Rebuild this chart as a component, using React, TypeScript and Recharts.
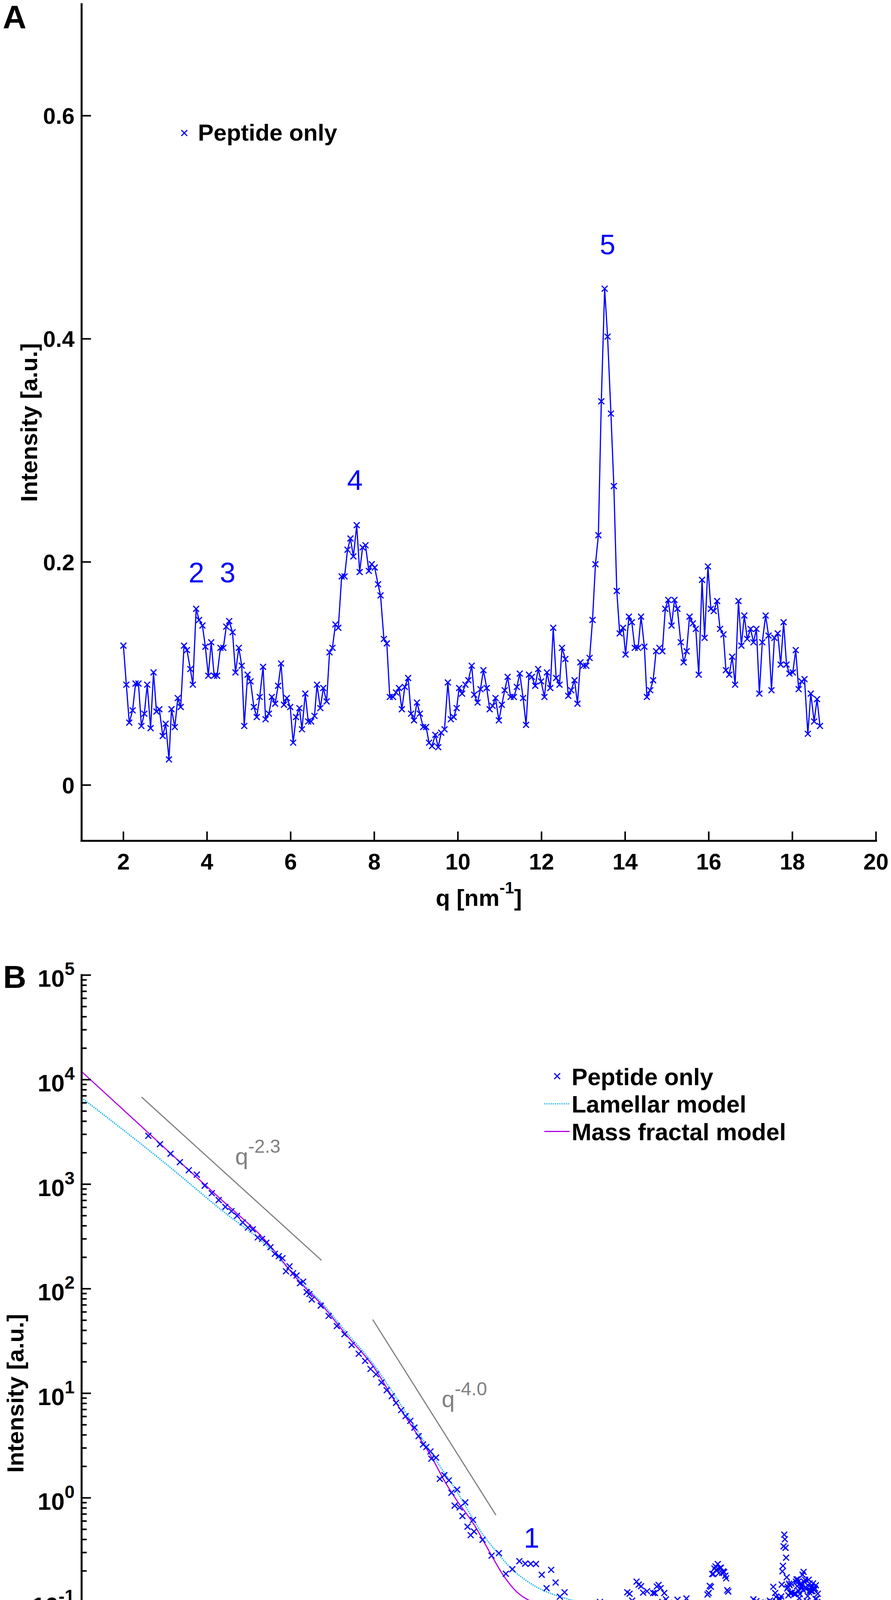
import React from 'react'
import {
  ComposedChart,
  Line,
  Scatter,
  XAxis,
  YAxis,
  Legend,
  ReferenceLine,
  ReferenceDot,
} from 'recharts'

const FONT = "'Liberation Sans', Arial, Helvetica, sans-serif"
const BLUE = '#0000ff'
const CYAN = '#1ab4f0'
const MAGENTA = '#b400e6'
const GREY = '#808080'
const LAM_DASH = '3 2.5'

// WAXS, q >= 2 nm^-1 (panel A, and the right half of panel B)
const waxsQ = [
  2.0, 2.07, 2.14, 2.22, 2.29, 2.36, 2.43, 2.5, 2.57, 2.65,
  2.72, 2.79, 2.86, 2.94, 3.01, 3.09, 3.15, 3.23, 3.3, 3.37,
  3.45, 3.52, 3.6, 3.66, 3.74, 3.81, 3.89, 3.96, 4.03, 4.1,
  4.17, 4.24, 4.32, 4.39, 4.46, 4.53, 4.61, 4.68, 4.76, 4.83,
  4.89, 4.97, 5.04, 5.12, 5.19, 5.26, 5.34, 5.4, 5.48, 5.55,
  5.63, 5.7, 5.77, 5.84, 5.91, 5.99, 6.06, 6.13, 6.21, 6.27,
  6.35, 6.42, 6.49, 6.57, 6.63, 6.71, 6.78, 6.86, 6.93, 7.0,
  7.07, 7.14, 7.22, 7.29, 7.36, 7.43, 7.5, 7.58, 7.65, 7.72,
  7.79, 7.87, 7.94, 8.01, 8.09, 8.15, 8.23, 8.3, 8.37, 8.45,
  8.52, 8.59, 8.66, 8.73, 8.81, 8.88, 8.95, 9.02, 9.09, 9.17,
  9.24, 9.31, 9.38, 9.46, 9.53, 9.6, 9.68, 9.76, 9.83, 9.9,
  9.97, 10.03, 10.1, 10.18, 10.25, 10.33, 10.39, 10.47, 10.54, 10.61,
  10.69, 10.76, 10.83, 10.9, 10.98, 11.05, 11.12, 11.19, 11.26, 11.34,
  11.41, 11.48, 11.56, 11.63, 11.7, 11.77, 11.85, 11.92, 11.99, 12.07,
  12.13, 12.21, 12.28, 12.35, 12.43, 12.49, 12.57, 12.64, 12.71, 12.79,
  12.86, 12.93, 13.0, 13.07, 13.15, 13.22, 13.29, 13.36, 13.43, 13.51,
  13.58, 13.66, 13.73, 13.8, 13.87, 13.95, 14.01, 14.09, 14.16, 14.23,
  14.31, 14.38, 14.46, 14.52, 14.6, 14.67, 14.74, 14.82, 14.89, 14.96,
  15.03, 15.11, 15.18, 15.25, 15.33, 15.4, 15.47, 15.54, 15.62, 15.69,
  15.76, 15.84, 15.9, 15.98, 16.05, 16.12, 16.2, 16.27, 16.35, 16.41,
  16.49, 16.56, 16.63, 16.71, 16.78, 16.85, 16.92, 17.0, 17.07, 17.14,
  17.21, 17.28, 17.36, 17.43, 17.5, 17.57, 17.65, 17.72, 17.79, 17.86,
  17.93, 18.01, 18.08, 18.15, 18.22, 18.29, 18.37, 18.44, 18.52, 18.59,
  18.66,
]
const waxsI = [
  0.125, 0.09, 0.056, 0.067, 0.091, 0.091, 0.053, 0.064, 0.09, 0.051,
  0.101, 0.066, 0.068, 0.044, 0.055, 0.023, 0.068, 0.052, 0.078, 0.07,
  0.125, 0.121, 0.104, 0.09, 0.158, 0.148, 0.143, 0.124, 0.098, 0.128,
  0.098, 0.098, 0.123, 0.123, 0.142, 0.147, 0.137, 0.101, 0.123, 0.107,
  0.053, 0.099, 0.093, 0.07, 0.061, 0.079, 0.106, 0.059, 0.064, 0.079,
  0.073, 0.089, 0.109, 0.072, 0.078, 0.07, 0.038, 0.061, 0.069, 0.05,
  0.082, 0.057, 0.057, 0.062, 0.09, 0.069, 0.087, 0.075, 0.119, 0.123,
  0.144, 0.141, 0.187, 0.187, 0.211, 0.221, 0.205, 0.233, 0.191, 0.213,
  0.215, 0.192, 0.198, 0.195, 0.18, 0.17, 0.131, 0.127, 0.079, 0.079,
  0.083, 0.087, 0.068, 0.088, 0.096, 0.064, 0.058, 0.074, 0.064, 0.052,
  0.052, 0.038, 0.035, 0.045, 0.034, 0.047, 0.05, 0.092, 0.059, 0.061,
  0.069, 0.087, 0.082, 0.09, 0.094, 0.107, 0.081, 0.074, 0.086, 0.103,
  0.087, 0.068, 0.071, 0.078, 0.058, 0.072, 0.085, 0.097, 0.079, 0.079,
  0.088, 0.1, 0.078, 0.054, 0.099, 0.097, 0.089, 0.104, 0.093, 0.079,
  0.101, 0.087, 0.141, 0.096, 0.09, 0.123, 0.113, 0.08, 0.085, 0.094,
  0.073, 0.11, 0.107, 0.107, 0.114, 0.148, 0.198, 0.224, 0.344, 0.445,
  0.402, 0.333, 0.268, 0.174, 0.136, 0.141, 0.117, 0.151, 0.146, 0.123,
  0.123, 0.151, 0.124, 0.079, 0.085, 0.094, 0.12, 0.123, 0.12, 0.158,
  0.166, 0.143, 0.166, 0.158, 0.128, 0.11, 0.12, 0.151, 0.145, 0.14,
  0.099, 0.184, 0.132, 0.196, 0.158, 0.156, 0.165, 0.14, 0.135, 0.103,
  0.099, 0.115, 0.09, 0.165, 0.125, 0.152, 0.131, 0.14, 0.128, 0.14,
  0.082, 0.128, 0.152, 0.134, 0.085, 0.132, 0.136, 0.108, 0.146, 0.108,
  0.1, 0.101, 0.121, 0.086, 0.093, 0.095, 0.046, 0.082, 0.057, 0.077,
  0.053,
]

// WAXS points between 1 and 2 nm^-1 (only shown in panel B)
const waxsLowQ = [1.06, 1.13, 1.2, 1.27, 1.35, 1.42, 1.49, 1.56, 1.64, 1.71, 1.78, 1.85, 1.92]
const waxsLowI = [0.28, 0.296, 0.188, 0.208, 0.248, 0.235, 0.234, 0.233, 0.184, 0.137, 0.205, 0.155, 0.1135]

// SAXS
const saxsQ = [
  0.0536, 0.0593, 0.065, 0.0705, 0.0762, 0.0817, 0.0875, 0.0931, 0.0988, 0.1047,
  0.1104, 0.1159, 0.1218, 0.1274, 0.1328, 0.1388, 0.144, 0.1495, 0.155, 0.161,
  0.1667, 0.172, 0.1774, 0.183, 0.1888, 0.1945, 0.2003, 0.206, 0.2123, 0.2175,
  0.222, 0.24, 0.257, 0.276, 0.295, 0.314, 0.334, 0.353, 0.37, 0.388,
  0.407, 0.426, 0.445, 0.462, 0.483, 0.502, 0.523, 0.542, 0.562, 0.584,
  0.601, 0.623, 0.628, 0.654, 0.676, 0.703, 0.731, 0.748, 0.769, 0.786,
  0.803, 0.823, 0.843, 0.86, 0.884, 0.902, 0.91, 0.98,
]
const saxsI = [
  2904, 2414, 1955, 1626, 1361, 1234, 968, 821, 706, 607,
  553, 498, 431, 385, 370, 310, 300, 275, 250, 216,
  205, 196, 147, 164, 141, 134, 113, 117, 93, 89,
  79, 69, 55, 44, 36.8, 29, 23.9, 20.4, 17.1, 15.2,
  12.7, 10.7, 9.4, 8.1, 6.9, 6.05, 5.45, 4.7, 3.9, 3.24,
  3.06, 2.78, 2.37, 2.43, 1.52, 1.65, 1.47, 1.12, 0.843, 1.2,
  0.81, 0.67, 0.905, 0.53, 0.44, 0.615, 0.477, 0.397,
]

// model fits
const lamellarQ = [0.03, 0.05, 0.07, 0.1, 0.15, 0.2, 0.24, 0.3, 0.38, 0.45, 0.55, 0.62, 0.78, 1.0, 1.09, 1.25, 1.5, 2.0, 2.5, 3.0, 3.5, 5, 10, 20]
const lamellarI = [6700, 2460, 1234, 580, 258, 119, 75, 38.2, 18.9, 10.1, 4.58, 2.81, 1.17, 0.42, 0.32, 0.215, 0.15, 0.11, 0.0975, 0.0923, 0.09, 0.0891, 0.0891, 0.0891]
const fractalQ = [0.03, 0.05, 0.07, 0.1, 0.15, 0.2, 0.24, 0.3, 0.38, 0.45, 0.55, 0.62, 0.71, 0.78, 0.91, 1.03, 1.17, 1.32, 1.5, 1.69, 2.0, 3.0, 5, 10, 20]
const fractalI = [11950, 3650, 1660, 730, 281, 116, 72, 36, 17.9, 9.0, 4.2, 2.62, 1.4, 0.96, 0.556, 0.32, 0.184, 0.126, 0.102, 0.0935, 0.0903, 0.0892, 0.0891, 0.0891, 0.0891]

// annotations
const peakLabelsA = [
  { text: '2', q: 3.745, I: 0.1818 },
  { text: '3', q: 4.492, I: 0.1818 },
  { text: '4', q: 7.536, I: 0.2648 },
  { text: '5', q: 13.58, I: 0.4758 },
]
const peakLabelsB = [{ text: '1', q: 1.502, I: 0.335 }]
const slopes = [
  { exp: '-2.3', x1: 0.0505, y1: 6820, x2: 0.2417, y2: 187, lq: 0.114, lI: 1551 },
  { exp: '-4.0', x1: 0.377, y1: 50.8, x2: 1.101, y2: 0.684, lq: 0.687, lI: 7.41 },
]
const legendOrderB = ['Peptide only', 'Lamellar model', 'Mass fractal model']

const ticksAX = [2, 4, 6, 8, 10, 12, 14, 16, 18, 20]
const ticksAY = [0, 0.2, 0.4, 0.6]
const decadesBX = [0.01, 0.1, 1, 10]
const decadesBY = [1e-3, 1e-2, 1e-1, 1, 10, 100, 1e3, 1e4]
const steps = [1, 2, 3, 4, 5, 6, 7, 8, 9]
const ticksBX = decadesBX.flatMap((d) => steps.map((k) => k * d)).filter((v) => v > 0.031 && v < 29)
const ticksBY = [...decadesBY.flatMap((d) => steps.map((k) => k * d)), 1e5]

const zip = (qs: number[], is: number[]) => qs.map((q, i) => ({ q, I: is[i] }))
const dataA = zip(waxsQ, waxsI)
const dataB = [...zip(saxsQ, saxsI), ...zip(waxsLowQ, waxsLowI), ...dataA]
const lamellar = zip(lamellarQ, lamellarI)
const fractal = zip(fractalQ, fractalI)

const FRAME = { stroke: '#000', strokeWidth: 5, strokeLinecap: 'square' as const }
const TW = 4
const MAJOR = 24
const MINOR = 13
const bold = { fontFamily: FONT, fontWeight: 700, fill: '#000' }

const isDecade = (v: number) => {
  const l = Math.log10(v)
  return Math.abs(l - Math.round(l)) < 1e-6
}

const Cross = (p: any) => {
  const { cx, cy } = p
  if (cx == null || cy == null || Number.isNaN(cx) || Number.isNaN(cy)) return <g />
  const h = 7.5
  return (
    <path
      d={`M${cx - h} ${cy - h}L${cx + h} ${cy + h}M${cx - h} ${cy + h}L${cx + h} ${cy - h}`}
      stroke={BLUE}
      strokeWidth={3}
      fill="none"
    />
  )
}

// panel A ticks (tickSize/tickMargin are 0, so x/y sit on the axis line)
const aBottom = ({ x, y, payload }: any) => (
  <g>
    <line x1={x} x2={x} y1={y} y2={y - MAJOR} stroke="#000" strokeWidth={TW} />
    <text x={x} y={y + 73} textAnchor="middle" fontSize={58} {...bold}>{payload.value}</text>
  </g>
)
const aTop = ({ x, y }: any) => <line x1={x} x2={x} y1={y} y2={y + MAJOR} stroke="#000" strokeWidth={TW} />
const aLeft = ({ x, y, payload }: any) => (
  <g>
    <line x1={x} x2={x + MAJOR} y1={y} y2={y} stroke="#000" strokeWidth={TW} />
    <text x={x - 18} y={y + 21} textAnchor="end" fontSize={58} {...bold}>{payload.value}</text>
  </g>
)
const aRight = ({ x, y }: any) => <line x1={x} x2={x - MAJOR} y1={y} y2={y} stroke="#000" strokeWidth={TW} />

// panel B ticks, log axes with minor ticks
const bBottom = ({ x, y, payload }: any) => {
  const big = isDecade(payload.value)
  return (
    <g>
      <line x1={x} x2={x} y1={y} y2={y - (big ? MAJOR : MINOR)} stroke="#000" strokeWidth={TW} />
      {big && (
        <text x={x} y={y + 92} textAnchor="middle" fontSize={62} {...bold}>
          10<tspan dy={-28} fontSize={46}>{Math.round(Math.log10(payload.value))}</tspan>
        </text>
      )}
    </g>
  )
}
const bTop = ({ x, y, payload }: any) => (
  <line x1={x} x2={x} y1={y} y2={y + (isDecade(payload.value) ? MAJOR : MINOR)} stroke="#000" strokeWidth={TW} />
)
const bLeft = ({ x, y, payload }: any) => {
  const big = isDecade(payload.value)
  return (
    <g>
      <line x1={x} x2={x + (big ? MAJOR : MINOR)} y1={y} y2={y} stroke="#000" strokeWidth={TW} />
      {big && (
        <text x={x - 18} y={y + 30} textAnchor="end" fontSize={62} {...bold}>
          10<tspan dy={-30} fontSize={46}>{Math.round(Math.log10(payload.value))}</tspan>
        </text>
      )}
    </g>
  )
}
const bRight = ({ x, y, payload }: any) => (
  <line x1={x} x2={x - (isDecade(payload.value) ? MAJOR : MINOR)} y1={y} y2={y} stroke="#000" strokeWidth={TW} />
)

const yTitle = (bx: number) => ({ viewBox }: any) => {
  const cx = viewBox.x + bx
  const cy = viewBox.y + viewBox.height / 2
  return (
    <text x={cx} y={cy} transform={`rotate(-90 ${cx} ${cy})`} textAnchor="middle" fontSize={60} {...bold}>
      Intensity [a.u.]
    </text>
  )
}
const xTitle = (dy: number) => ({ viewBox }: any) => (
  <text x={viewBox.x + viewBox.width / 2} y={viewBox.y + dy} textAnchor="middle" fontSize={60} {...bold}>
    q [nm<tspan dy={-32} fontSize={42}>-1</tspan><tspan dy={32}>]</tspan>
  </text>
)

const peakText = (txt: string) => (p: any) => (
  <text x={p.cx} y={p.cy} textAnchor="middle" fontFamily={FONT} fontSize={72} fill={BLUE}>{txt}</text>
)
const slopeText = (exp: string) => (p: any) => (
  <text x={p.cx} y={p.cy} fontFamily={FONT} fontSize={60} fill={GREY}>
    q<tspan dy={-30} fontSize={48}>{exp}</tspan>
  </text>
)

const legendA = ({ payload }: any) => (
  <svg width={460} height={80}>
    {(payload || []).map((e: any) => (
      <g key={e.value}>
        <Cross cx={32} cy={40.5} />
        <text x={67} y={60} fontSize={60} {...bold}>{e.value}</text>
      </g>
    ))}
  </svg>
)

const legendB = ({ payload }: any) => {
  const items = [...(payload || [])].sort(
    (a: any, b: any) => legendOrderB.indexOf(a.value) - legendOrderB.indexOf(b.value),
  )
  return (
    <svg width={640} height={220}>
      {items.map((e: any, i: number) => {
        const cy = 35 + i * 70.7
        const dash = e.payload?.strokeDasharray ?? (e.value === 'Lamellar model' ? LAM_DASH : undefined)
        return (
          <g key={e.value}>
            {e.type === 'cross' ? (
              <Cross cx={47} cy={cy} />
            ) : (
              <line x1={14} x2={79} y1={cy} y2={cy} stroke={e.color} strokeWidth={3} strokeDasharray={dash} />
            )}
            <text x={84} y={cy + 22.5} fontSize={61} {...bold}>{e.value}</text>
          </g>
        )
      })}
    </svg>
  )
}

function PanelA() {
  return (
    <ComposedChart width={2282} height={2380} data={dataA} margin={{ top: 10.7, right: 38.4, bottom: 0, left: 0 }}>
      <XAxis
        xAxisId="x" dataKey="q" type="number" domain={[1, 20]} allowDataOverflow
        ticks={ticksAX} interval={0} tickSize={0} tickMargin={0} tickLine={false}
        tick={aBottom} height={227.4} axisLine={FRAME} label={xTitle(166)}
      />
      <XAxis
        xAxisId="xt" orientation="top" type="number" domain={[1, 20]} allowDataOverflow
        ticks={ticksAX} interval={0} tickSize={0} tickMargin={0} tickLine={false}
        tick={aTop} height={0} axisLine={FRAME}
      />
      <YAxis
        yAxisId="y" dataKey="I" type="number" domain={[-0.05, 0.7]} allowDataOverflow
        ticks={ticksAY} interval={0} tickSize={0} tickMargin={0} tickLine={false}
        tick={aLeft} width={209} axisLine={FRAME} label={yTitle(95)}
      />
      <YAxis
        yAxisId="yr" orientation="right" type="number" domain={[-0.05, 0.7]} allowDataOverflow
        ticks={ticksAY} interval={0} tickSize={0} tickMargin={0} tickLine={false}
        tick={aRight} width={0} axisLine={FRAME}
      />
      <Line
        xAxisId="x" yAxisId="y" dataKey="I" name="Peptide only" type="linear"
        stroke={BLUE} strokeWidth={3} dot={Cross} activeDot={false}
        legendType="cross" isAnimationActive={false}
      />
      {peakLabelsA.map((p) => (
        <ReferenceDot key={p.text} xAxisId="x" yAxisId="y" x={p.q} y={p.I} r={1} shape={peakText(p.text)} />
      ))}
      <Legend
        content={legendA} layout="vertical" align="center" verticalAlign="middle"
        wrapperStyle={{ left: 440, top: 300, width: 460, height: 80 }}
      />
    </ComposedChart>
  )
}

function PanelB() {
  return (
    <ComposedChart width={2282} height={2460} margin={{ top: 116.3, right: 38.4, bottom: 0, left: 0 }}>
      <XAxis
        xAxisId="x" dataKey="q" type="number" scale="log" domain={[0.03, 30]} allowDataOverflow
        ticks={ticksBX} interval={0} tickSize={0} tickMargin={0} tickLine={false}
        tick={bBottom} height={202.5} axisLine={FRAME} label={xTitle(189)}
      />
      <XAxis
        xAxisId="xt" orientation="top" type="number" scale="log" domain={[0.03, 30]} allowDataOverflow
        ticks={ticksBX} interval={0} tickSize={0} tickMargin={0} tickLine={false}
        tick={bTop} height={0} axisLine={FRAME}
      />
      <YAxis
        yAxisId="y" dataKey="I" type="number" scale="log" domain={[1e-3, 1e5]} allowDataOverflow
        ticks={ticksBY} interval={0} tickSize={0} tickMargin={0} tickLine={false}
        tick={bLeft} width={209} axisLine={FRAME} label={yTitle(60)}
      />
      <YAxis
        yAxisId="yr" orientation="right" type="number" scale="log" domain={[1e-3, 1e5]} allowDataOverflow
        ticks={ticksBY} interval={0} tickSize={0} tickMargin={0} tickLine={false}
        tick={bRight} width={0} axisLine={FRAME}
      />
      <Scatter
        xAxisId="x" yAxisId="y" data={dataB} name="Peptide only" fill={BLUE}
        shape={Cross} legendType="cross" isAnimationActive={false}
      />
      <Line
        xAxisId="x" yAxisId="y" data={lamellar} dataKey="I" name="Lamellar model" type="monotone"
        stroke={CYAN} strokeWidth={3.5} strokeDasharray={LAM_DASH} dot={false} activeDot={false}
        legendType="line" isAnimationActive={false}
      />
      <Line
        xAxisId="x" yAxisId="y" data={fractal} dataKey="I" name="Mass fractal model" type="monotone"
        stroke={MAGENTA} strokeWidth={3} dot={false} activeDot={false}
        legendType="line" isAnimationActive={false}
      />
      {slopes.map((s) => (
        <ReferenceLine
          key={s.exp} xAxisId="x" yAxisId="y" ifOverflow="visible"
          segment={[{ x: s.x1, y: s.y1 }, { x: s.x2, y: s.y2 }]}
          stroke={GREY} strokeWidth={3}
        />
      ))}
      {slopes.map((s) => (
        <ReferenceDot key={'t' + s.exp} xAxisId="x" yAxisId="y" x={s.lq} y={s.lI} r={1} shape={slopeText(s.exp)} />
      ))}
      {peakLabelsB.map((p) => (
        <ReferenceDot key={p.text} xAxisId="x" yAxisId="y" x={p.q} y={p.I} r={1} shape={peakText(p.text)} />
      ))}
      <Legend
        content={legendB} layout="vertical" align="center" verticalAlign="middle"
        wrapperStyle={{ left: 1380, top: 340, width: 640, height: 220 }}
      />
    </ComposedChart>
  )
}

export default function App() {
  return (
    <div style={{ position: 'relative', width: 2282, height: 4840, margin: -8, background: '#fff', overflow: 'hidden' }}>
      <div style={{ position: 'absolute', left: 0, top: 0 }}>
        <PanelA />
      </div>
      <div style={{ position: 'absolute', left: 0, top: 2380 }}>
        <PanelB />
      </div>
      <svg width={2282} height={4840} style={{ position: 'absolute', left: 0, top: 0, pointerEvents: 'none' }}>
        <text x={7} y={73} fontSize={84} {...bold}>A</text>
        <text x={8} y={2529} fontSize={82} {...bold}>B</text>
      </svg>
    </div>
  )
}
